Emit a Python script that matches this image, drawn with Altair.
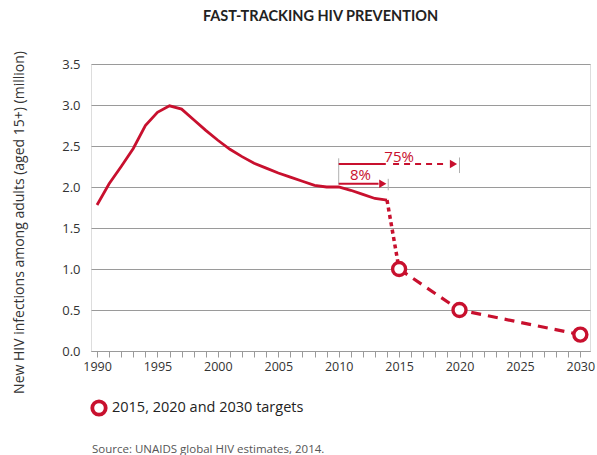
import altair as alt
import pandas as pd

RED = "#c8102e"
GRID = "#9a9a9a"
TICKGREY = "#b0b0b0"
FONT = "Open Sans"
TFONT = "Lato"

# ---- data ----
hist_years = list(range(1990, 2015))
hist_values = [1.78, 2.04, 2.25, 2.47, 2.75, 2.91, 2.99, 2.95, 2.82, 2.69,
               2.57, 2.46, 2.37, 2.29, 2.23, 2.17, 2.12, 2.07, 2.02, 2.00,
               2.00, 1.96, 1.91, 1.86, 1.84]

bridge_years = [2014, 2015]
bridge_values = [1.84, 1.0]

target_years = [2015, 2020, 2030]
target_values = [1.0, 0.5, 0.2]
target_label = "2015, 2020 and 2030 targets"

x_ticks = list(range(1990, 2031))
y_ticks = [0.0, 0.5, 1.0, 1.5, 2.0, 2.5, 3.0, 3.5]

# annotation: bracket ticks (x, y from, y to)
bracket_x = [2010, 2014.1, 2020]
bracket_y1 = [2.03, 1.96, 2.17]
bracket_y2 = [2.35, 2.10, 2.36]

# arrows: solid shafts, dashed shaft, heads
solid_x1 = [2010, 2010]
solid_x2 = [2013.3, 2013.9]
solid_y = [2.04, 2.28]
dash_x1 = [2014.5]
dash_x2 = [2019.0]
dash_y = [2.28]
head_x = [2013.65, 2019.5]
head_y = [2.04, 2.28]

label_text = ["8%", "75%"]
label_x = [2011.8, 2015.0]
label_y = [2.15, 2.37]

title_text = "FAST-TRACKING HIV PREVENTION"
y_title = "New HIV infections among adults (aged 15+) (million)"
source_text = "Source: UNAIDS global HIV estimates, 2014."

# ---- frames ----
hist = pd.DataFrame({"year": hist_years, "value": hist_values})
bridge = pd.DataFrame({"year": bridge_years, "value": bridge_values})
targets = pd.DataFrame({"year": target_years, "value": target_values,
                        "label": [target_label] * len(target_years)})
brackets = pd.DataFrame({"x": bracket_x, "y1": bracket_y1, "y2": bracket_y2})
solid = pd.DataFrame({"x1": solid_x1, "x2": solid_x2, "y": solid_y})
dashed = pd.DataFrame({"x1": dash_x1, "x2": dash_x2, "y": dash_y})
heads = pd.DataFrame({"x": head_x, "y": head_y})
labels = pd.DataFrame({"x": label_x, "y": label_y, "t": label_text})
source = pd.DataFrame({"t": [source_text]})

xscale = alt.Scale(domain=[1989.5, 2030.8], nice=False, zero=False)
yscale = alt.Scale(domain=[0, 3.5], nice=False)

xaxis = alt.Axis(values=x_ticks, format="d",
                 labelExpr="datum.value % 5 == 0 ? datum.label : ''",
                 labelOverlap=False, labelBound=False, labelFlush=False,
                 grid=False, domainColor=GRID, tickColor=GRID, tickSize=6,
                 labelPadding=3, title=None,
                 labelFont=FONT, labelFontSize=12.5, labelColor="#333")
yaxis = alt.Axis(values=y_ticks, format=".1f", grid=True, gridColor=GRID,
                 gridWidth=1.2, domain=False, ticks=False, labelPadding=11,
                 labelFont=FONT, labelFontSize=13, labelColor="#333",
                 title=y_title, titleAngle=270, titleX=-72, titleY=158,
                 titleAlign="center", titleBaseline="middle",
                 titleFontSize=14, titleFontWeight="normal",
                 titleColor="#333", titleFont=FONT)

X = lambda f: alt.X(f, type="quantitative", scale=xscale, axis=xaxis)
Y = lambda f: alt.Y(f, type="quantitative", scale=yscale, axis=yaxis)

line_hist = alt.Chart(hist).mark_line(color=RED, strokeWidth=2.8).encode(
    x=X("year"), y=Y("value"))

line_bridge = alt.Chart(bridge).mark_line(
    color=RED, strokeWidth=3.5, strokeDash=[4, 3.5]).encode(
    x=X("year"), y=Y("value"))

line_target = alt.Chart(targets).mark_line(
    color=RED, strokeWidth=3.2, strokeDash=[10, 7]).encode(
    x=X("year"), y=Y("value"))

points = alt.Chart(targets).mark_point(
    shape="circle", fill="white", filled=False, strokeWidth=3.4, size=170,
    opacity=1).encode(
    x=X("year"), y=Y("value"),
    stroke=alt.Stroke("label:N",
                      scale=alt.Scale(domain=[target_label], range=[RED]),
                      legend=alt.Legend(orient="none", legendX=-1, legendY=335,
                                        title=None, symbolType="circle",
                                        symbolSize=180, symbolStrokeWidth=3.8,
                                        symbolFillColor="white",
                                        labelFont=FONT, labelFontSize=14.5,
                                        labelColor="#222", labelOffset=4,
                                        labelLimit=500, padding=0)))

bracket_rules = alt.Chart(brackets).mark_rule(color=TICKGREY, strokeWidth=1).encode(
    x=X("x"), y=Y("y1"), y2="y2")

solid_rules = alt.Chart(solid).mark_rule(color=RED, strokeWidth=2).encode(
    x=X("x1"), x2="x2", y=Y("y"))

dashed_rules = alt.Chart(dashed).mark_rule(color=RED, strokeWidth=2,
                                           strokeDash=[6, 5]).encode(
    x=X("x1"), x2="x2", y=Y("y"))

arrow_heads = alt.Chart(heads).mark_point(
    shape="triangle-right", filled=True, color=RED, size=70, opacity=1).encode(
    x=X("x"), y=Y("y"))

pct_text = alt.Chart(labels).mark_text(
    color=RED, font=FONT, fontSize=15, align="center",
    baseline="middle").encode(
    x=X("x"), y=Y("y"), text="t:N")

src = alt.Chart(source).mark_text(
    align="left", baseline="alphabetic", font=FONT, fontSize=11.5,
    color="#555").encode(x=alt.value(1), y=alt.value(389), text="t:N")

chart = alt.layer(
    bracket_rules, line_hist, line_bridge, line_target, points,
    solid_rules, dashed_rules, arrow_heads, pct_text, src
).properties(
    width=499, height=287,
    title=alt.TitleParams(title_text, font=TFONT, fontSize=14.5,
                          fontWeight="bold", color="#222", anchor="middle",
                          dx=-20, offset=15, baseline="alphabetic"),
    autosize=alt.AutoSizeParams(type="none"),
    padding={"left": 91, "top": 64, "right": 7, "bottom": 104},
).configure_view(stroke=None).configure(background="white")

chart.save("out.html", embed_options={"renderer": "svg", "actions": False})
